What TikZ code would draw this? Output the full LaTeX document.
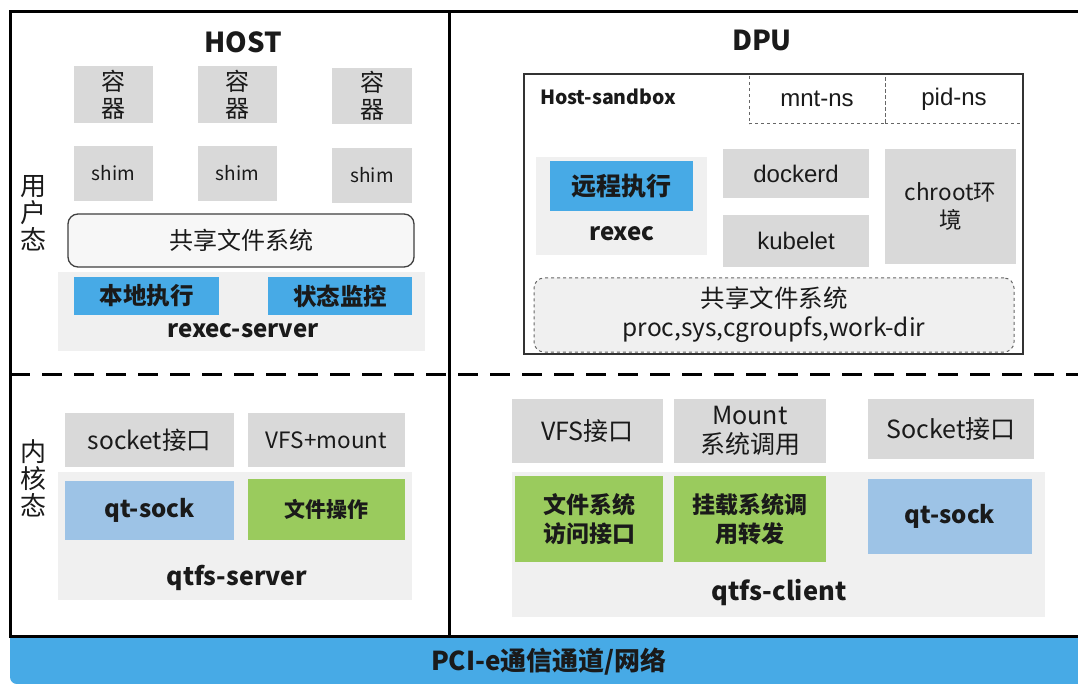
\documentclass[tikz,border=0pt]{standalone}
\usepackage{fontspec}
\setmainfont{Noto Sans CJK SC}
\newfontfamily\arialf{Liberation Sans}
\definecolor{boxgray}{HTML}{D9D9D9}
\definecolor{bggray}{HTML}{F0F0F0}
\definecolor{bblue}{HTML}{47AAE6}
\definecolor{lblue}{HTML}{9DC3E6}
\definecolor{bgreen}{HTML}{9ACB5D}
\definecolor{txt}{HTML}{1A1A1A}
\newcommand\fsz[2]{\fontsize{#1}{#2}\selectfont}
\tikzset{
  base/.style={inner sep=0pt, outer sep=0pt, text=txt, align=center},
  gbox/.style={base, fill=boxgray, font=\fsz{24}{27}},
  bgbox/.style={base, fill=bggray},
  bluebox/.style={base, fill=bblue, font=\fsz{23.5}{26}\bfseries},
  lbluebox/.style={base, fill=lblue, font=\fsz{24}{28}\bfseries},
  greenbox/.style={base, fill=bgreen, font=\fsz{21}{28}\bfseries},
  lbl/.style={base, font=\fsz{23}{26}\bfseries},
  title/.style={base, font=\fsz{27.5}{30}\bfseries},
  vtext/.style={base, font=\fsz{26}{27}},
  frame/.style={line width=3pt, black},
}
\begin{document}
\begin{tikzpicture}[x=1pt,y=-1pt]
\path[use as bounding box, fill=white] (0,0) rectangle (1078,684);

% frame
\coordinate (tl) at (10,12); \coordinate (tr) at (1078,12);
\coordinate (bl) at (10,636); \coordinate (br) at (1078,636);
\coordinate (dt) at (449,12); \coordinate (db) at (449,636);
\coordinate (ml) at (10,374); \coordinate (mr) at (1078,374);
\draw[frame] (tr) -- (tl) -- (bl) -- (br);
\draw[frame] (dt) -- (db);
\draw[frame, dash pattern=on 20pt off 12pt] (ml) -- (mr);

% PCI bar
\node[base, fill=bblue, minimum width=1068, minimum height=46, rounded corners=7pt, anchor=north west] (pci) at (10,638) {};
\fill[bblue] (10,638) rectangle (1078,670);
\fill[bblue] (30,660) rectangle (1078,684);
\node[base, font=\fsz{26}{28}\bfseries] (pcit) at (549,662) {PCI-e通信通道/网络};

% ---------- HOST ----------
\node[title] (host) at (243,42) {HOST};
\node[gbox, minimum width=79, minimum height=57] (c1) at (113.5,94.5) {容\\器};
\node[gbox, minimum width=79, minimum height=57] (c2) at (237.5,94.5) {容\\器};
\node[gbox, minimum width=80, minimum height=56] (c3) at (372,96) {容\\器};
\node[gbox, minimum width=79, minimum height=55, font=\fsz{19}{22}] (s1) at (113.5,173.5) {shim};
\node[gbox, minimum width=79, minimum height=55, font=\fsz{19}{22}] (s2) at (237.5,173.5) {shim};
\node[gbox, minimum width=80, minimum height=55, font=\fsz{19}{22}] (s3) at (372,175.5) {shim};
\node[base, fill=white!97!black, draw=black!75, line width=1.3pt, rounded corners=10pt, minimum width=346, minimum height=53, font=\fsz{24}{26}] (hfs) at (241,240.5) {共享文件系统};
\node[bgbox, minimum width=367, minimum height=79] (rs) at (241.5,311.5) {};
\node[bluebox, minimum width=145, minimum height=38] (local) at (146.5,296) {本地执行};
\node[bluebox, minimum width=144, minimum height=38] (mon) at (340,296) {状态监控};
\node[lbl, font=\fsz{24}{26}\bfseries] (rst) at (243,331) {rexec-server};
\node[vtext] (user) at (33,213) {用\\户\\态};

\node[gbox, minimum width=169, minimum height=54, font=\fsz{24.5}{27}] (sock) at (149.5,440) {socket接口};
\node[gbox, minimum width=157, minimum height=54, font=\fsz{22.5}{27}] (vfsm) at (326.5,440) {VFS+mount};
\node[bgbox, minimum width=354, minimum height=128] (qs) at (235,536) {};
\node[lbluebox, minimum width=169, minimum height=59] (qsock) at (149.5,510.5) {qt-sock};
\node[greenbox, minimum width=157, minimum height=61] (fop) at (326.5,509.5) {文件操作};
\node[lbl, font=\fsz{25}{27}\bfseries] (qst) at (237,578) {qtfs-server};
\node[vtext] (kern) at (33,478) {内\\核\\态};

% ---------- DPU ----------
\node[title] (dpu) at (762,40) {DPU};
\node[base, draw=black!60, dashed, line width=1pt, minimum width=136, minimum height=50, font=\arialf\fsz{24}{26}] (mnt) at (817,99) {mnt-ns};
\node[base, draw=black!60, dashed, line width=1pt, minimum width=138, minimum height=50, font=\arialf\fsz{24}{26}] (pid) at (954,99) {pid-ns};
\node[base, draw=black!80, line width=1.3pt, minimum width=499, minimum height=280] (sb) at (773.5,214) {};
\node[base, font=\fsz{19.5}{22}\bfseries, anchor=west] (sbt) at (540,97) {Host-sandbox};
\node[bgbox, minimum width=171, minimum height=98] (rx) at (621.5,206) {};
\node[bluebox, minimum width=143, minimum height=50, font=\fsz{25}{28}\bfseries] (remote) at (621.5,186) {远程执行};
\node[lbl, font=\fsz{24}{26}\bfseries] (rxt) at (622,234) {rexec};
\node[gbox, minimum width=146, minimum height=49, font=\arialf\fsz{24}{26}] (dockerd) at (796,173.5) {dockerd};
\node[gbox, minimum width=146, minimum height=52, font=\arialf\fsz{24}{26}] (kubelet) at (796,241) {kubelet};
\node[gbox, minimum width=131, minimum height=115, font=\fsz{22.5}{28}] (chroot) at (950.5,206.5) {chroot环\\境};
\node[base, fill=bggray, draw=black!60, dashed, line width=1pt, rounded corners=10pt, minimum width=480, minimum height=74, font=\fsz{24.5}{29}] (dfs) at (774,315) {共享文件系统\\proc,sys,cgroupfs,work-dir};

\node[gbox, minimum width=151, minimum height=64, font=\fsz{25}{27}] (vfsi) at (587.5,431) {VFS接口};
\node[gbox, minimum width=152, minimum height=64, font=\fsz{25}{29}] (mount) at (750,431) {Mount\\系统调用};
\node[gbox, minimum width=166, minimum height=60, font=\fsz{25}{27}] (socki) at (951,429) {Socket接口};
\node[bgbox, minimum width=533, minimum height=145] (qc) at (778.5,544.5) {};
\node[greenbox, minimum width=148, minimum height=86, font=\fsz{23}{29}\bfseries] (fsa) at (589,519) {文件系统\\访问接口};
\node[greenbox, minimum width=152, minimum height=86, font=\fsz{23}{29}\bfseries] (mfw) at (750,519) {挂载系统调\\用转发};
\node[lbluebox, minimum width=164, minimum height=75] (qsock2) at (950,516.5) {qt-sock};
\node[lbl, font=\fsz{25.5}{27}\bfseries] (qct) at (779,593) {qtfs-client};
\end{tikzpicture}
\end{document}
